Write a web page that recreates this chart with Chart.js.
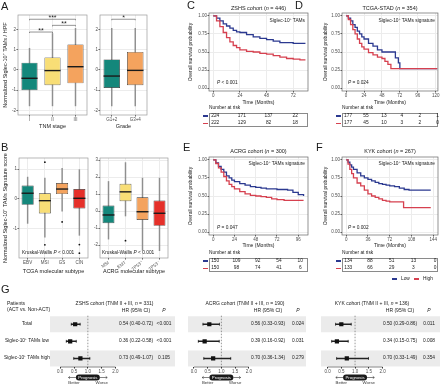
<!DOCTYPE html>
<html>
<head>
<meta charset="utf-8">
<title>Siglec-10+ TAMs</title>
<script src="https://cdn.jsdelivr.net/npm/chart.js@4.4.1/dist/chart.umd.min.js"></script>
<style>
  html, body { margin: 0; padding: 0; background: #fff; }
  body { position: relative; width: 440px; height: 384px; overflow: hidden; font-family: 'Liberation Sans', Arial, sans-serif; color: #1a1a1a; }
  canvas { position: absolute; }
  .t { position: absolute; white-space: nowrap; line-height: 1; }
  .box { position: absolute; border: 0.6px solid #8a8a8a; box-sizing: border-box; }
  .key { position: absolute; height: 1.3px; width: 5px; }
</style>
</head>
<body>
<script>
// panel A
const tnmLabels = ['I', 'II', 'III'];
const tnmMin = [-1.77, -1.77, -1.77];
const tnmQ1 = [-1.0, -0.75, -0.66];
const tnmMed = [-0.41, -0.03, 0.16];
const tnmQ3 = [0.36, 0.62, 1.26];
const tnmMax = [1.07, 1.8, 2.05];
const tnmSig = [{ from: 0, to: 1, y: 1.87, text: '**' }, { from: 1, to: 2, y: 2.2, text: '**' }, { from: 0, to: 2, y: 2.5, text: '***' }];

const gradeLabels = ['G1+2', 'G3+4'];
const gradeMin = [-1.77, -1.77];
const gradeQ1 = [-0.89, -0.75];
const gradeMed = [-0.3, -0.02];
const gradeQ3 = [0.52, 0.89];
const gradeMax = [2.05, 2.05];
const gradeSig = [{ from: 0, to: 1, y: 2.5, text: '*' }];

// panel B
const tcgaLabels = ['EBV', 'MSI', 'GS', 'CIN'];
const tcgaMin = [-0.82, -1.28, -0.41, -1.22];
const tcgaQ1 = [-0.2, -0.49, 0.16, -0.32];
const tcgaMed = [0.19, -0.06, 0.33, 0.02];
const tcgaQ3 = [0.45, 0.19, 0.53, 0.33];
const tcgaMax = [0.73, 0.7, 1.02, 0.98];
const tcgaOut = [{ x: 'MSI', y: 1.23 }, { x: 'MSI', y: -1.54 }, { x: 'GS', y: -0.77 }, { x: 'CIN', y: -1.53 }, { x: 'CIN', y: -1.82 }];

const acrgLabels = ['MSI', 'EMT', 'TP53\u207A', 'TP53\u207B'];
const acrgMin = [-1.65, -0.29, -2.3, -2.33];
const acrgQ1 = [-0.72, 0.58, -0.52, -0.87];
const acrgMed = [-0.23, 1.13, -0.04, -0.13];
const acrgQ3 = [0.33, 1.61, 0.81, 0.62];
const acrgMax = [1.74, 2.85, 1.94, 1.94];
const acrgOut = [{ x: 'EMT', y: -1.74 }];

// survival curves (months, survival probability)
const zshsLowT = [0, 3, 6, 9, 12, 15, 18, 21, 24, 30, 36, 42, 48, 54, 60, 66, 72, 78, 83];
const zshsLowS = [1, 0.97, 0.93, 0.89, 0.86, 0.83, 0.80, 0.78, 0.77, 0.74, 0.71, 0.69, 0.67, 0.65, 0.63, 0.63, 0.62, 0.62, 0.62];
const zshsHighT = [0, 3, 6, 9, 12, 15, 18, 21, 24, 30, 36, 42, 48, 54, 60, 66, 72, 78, 83];
const zshsHighS = [1, 0.93, 0.85, 0.77, 0.70, 0.64, 0.59, 0.56, 0.53, 0.51, 0.50, 0.48, 0.47, 0.45, 0.43, 0.41, 0.40, 0.39, 0.39];

const tcgaLowT = [0, 3, 6, 9, 12, 15, 18, 21, 24, 30, 36, 42, 48, 54, 60, 65, 66, 70, 72, 122];
const tcgaLowS = [1, 0.97, 0.93, 0.88, 0.84, 0.79, 0.75, 0.71, 0.68, 0.62, 0.58, 0.53, 0.50, 0.50, 0.50, 0.50, 0.42, 0.35, 0.27, 0.27];
const tcgaHighT = [0, 3, 6, 9, 12, 15, 18, 21, 24, 30, 36, 42, 48, 52, 56, 60, 122];
const tcgaHighS = [1, 0.95, 0.88, 0.81, 0.75, 0.68, 0.62, 0.57, 0.54, 0.49, 0.46, 0.43, 0.41, 0.37, 0.33, 0.27, 0.27];

const acrgLowT = [0, 3, 6, 9, 12, 15, 18, 21, 24, 30, 36, 42, 48, 54, 60, 72, 84, 90, 96, 102];
const acrgLowS = [1, 0.96, 0.91, 0.87, 0.83, 0.78, 0.75, 0.72, 0.70, 0.67, 0.65, 0.63, 0.62, 0.61, 0.60, 0.59, 0.58, 0.55, 0.52, 0.50];
const acrgHighT = [0, 3, 6, 9, 12, 15, 18, 21, 24, 30, 36, 42, 48, 54, 60, 66, 72, 80, 102];
const acrgHighS = [1, 0.95, 0.89, 0.83, 0.77, 0.71, 0.66, 0.63, 0.60, 0.56, 0.53, 0.51, 0.50, 0.49, 0.48, 0.46, 0.45, 0.44, 0.44];

const kykLowT = [0, 3, 6, 9, 12, 18, 24, 30, 36, 42, 48, 54, 60, 66, 72, 80, 88, 96, 104, 140];
const kykLowS = [1, 0.97, 0.93, 0.90, 0.87, 0.82, 0.78, 0.75, 0.73, 0.71, 0.69, 0.67, 0.66, 0.65, 0.64, 0.63, 0.61, 0.59, 0.58, 0.58];
const kykHighT = [0, 3, 6, 9, 12, 18, 24, 30, 36, 42, 48, 54, 60, 66, 72, 94, 95, 140];
const kykHighS = [1, 0.94, 0.87, 0.81, 0.75, 0.68, 0.64, 0.58, 0.53, 0.50, 0.48, 0.46, 0.44, 0.43, 0.42, 0.42, 0.34, 0.34];

// numbers at risk
const zshsRiskT = [0, 24, 48, 72];
const zshsRiskLow = [224, 171, 137, 22];
const zshsRiskHigh = [222, 129, 82, 18];
const tcgaRiskT = [0, 24, 48, 72, 96, 120];
const tcgaRiskLow = [177, 55, 13, 4, 2, 1];
const tcgaRiskHigh = [177, 45, 10, 3, 2, 0];
const acrgRiskT = [0, 24, 48, 72, 96];
const acrgRiskLow = [150, 109, 92, 54, 10];
const acrgRiskHigh = [150, 98, 74, 41, 6];
const kykRiskT = [0, 36, 72, 108, 144];
const kykRiskLow = [134, 88, 51, 13, 0];
const kykRiskHigh = [133, 66, 29, 3, 0];

// panel G
const forestRows = ['Total', 'Siglec-10\u207A TAMs low', 'Siglec-10\u207A TAMs high'];
const zshsHR = [0.54, 0.36, 0.73];
const zshsLo = [0.40, 0.22, 0.49];
const zshsHi = [0.72, 0.58, 1.07];
const zshsP = ['&lt;0.001', '&lt;0.001', '0.105'];
const acrgHR = [0.56, 0.39, 0.70];
const acrgLo = [0.33, 0.16, 0.36];
const acrgHi = [0.93, 0.92, 1.34];
const acrgP = ['0.024', '0.031', '0.279'];
const kykHR = [0.50, 0.34, 0.70];
const kykLo = [0.29, 0.15, 0.33];
const kykHi = [0.86, 0.75, 1.49];
const kykP = ['0.011', '0.008', '0.354'];

const blue = '#2b3990';
const red = '#d6404f';
const fills = ['#14877b', '#f8de76', '#f4a35e', '#e5302a'];
const FONT = "'Liberation Sans', Arial, sans-serif";

Chart.defaults.animation = false;
Chart.defaults.font.family = FONT;
Chart.defaults.font.size = 4.5;
Chart.defaults.color = '#4d4d4d';
Chart.defaults.events = [];
Chart.defaults.plugins.legend.display = false;
Chart.defaults.plugins.tooltip.enabled = false;

function place(x, y, w, h) {
  const c = document.createElement('canvas');
  c.width = w; c.height = h;
  c.style.left = x + 'px'; c.style.top = y + 'px';
  c.style.width = w + 'px'; c.style.height = h + 'px';
  document.body.appendChild(c);
  return c;
}

function text(x, y, html, size, align, extra) {
  const d = document.createElement('div');
  d.className = 't';
  d.innerHTML = html;
  d.style.left = x + 'px';
  d.style.top = y + 'px';
  d.style.fontSize = size + 'px';
  const tx = align === 'center' ? '-50%' : align === 'right' ? '-100%' : '0';
  d.style.transform = 'translate(' + tx + ',-50%)';
  if (extra) Object.assign(d.style, extra);
  document.body.appendChild(d);
  return d;
}

function key(x, y, color) {
  const d = document.createElement('div');
  d.className = 'key';
  d.style.left = x + 'px';
  d.style.top = (y - 0.65) + 'px';
  d.style.background = color;
  document.body.appendChild(d);
}

// canvas box and plot area, page coordinates
function geo(cx, cy, cw, ch, x1, y1, x2, y2) {
  return { cx, cy, cw, ch, x1, y1, x2, y2, yw: x1 - cx, xh: cy + ch - y2, pt: y1 - cy, pr: cx + cw - x2 };
}

function frame(color) {
  return {
    id: 'frame',
    afterDraw(chart) {
      const a = chart.chartArea, ctx = chart.ctx;
      ctx.save();
      ctx.strokeStyle = color;
      ctx.lineWidth = 0.7;
      ctx.strokeRect(a.left, a.top, a.right - a.left, a.bottom - a.top);
      ctx.restore();
    }
  };
}

function medianLines(values) {
  return {
    id: 'medians',
    afterDatasetsDraw(chart) {
      const meta = chart.getDatasetMeta(1);
      const y = chart.scales.y, ctx = chart.ctx;
      ctx.save();
      ctx.strokeStyle = '#1a1a1a';
      ctx.lineWidth = 1.4;
      meta.data.forEach((bar, i) => {
        const py = y.getPixelForValue(values[i]);
        ctx.beginPath();
        ctx.moveTo(bar.x - bar.width / 2, py);
        ctx.lineTo(bar.x + bar.width / 2, py);
        ctx.stroke();
      });
      ctx.restore();
    }
  };
}

function sigBrackets(pairs) {
  return {
    id: 'sig',
    afterDatasetsDraw(chart) {
      const { ctx, scales: { x, y } } = chart;
      ctx.save();
      ctx.strokeStyle = '#4d4d4d';
      ctx.lineWidth = 0.6;
      ctx.fillStyle = '#1a1a1a';
      ctx.font = '7px ' + FONT;
      ctx.textAlign = 'center';
      pairs.forEach(p => {
        const x1 = x.getPixelForValue(p.from), x2 = x.getPixelForValue(p.to), py = y.getPixelForValue(p.y);
        ctx.beginPath();
        ctx.moveTo(x1, py + 1); ctx.lineTo(x1, py); ctx.lineTo(x2, py); ctx.lineTo(x2, py + 1);
        ctx.stroke();
        ctx.fillText(p.text, (x1 + x2) / 2, py + 1);
      });
      ctx.restore();
    }
  };
}

function boxChart(g, labels, lo, q1, med, q3, hi, outliers, yMin, yMax, xTitle, yTitle, sig) {
  return new Chart(place(g.cx, g.cy, g.cw, g.ch), {
    type: 'bar',
    data: {
      labels: labels,
      datasets: [
        { type: 'line', data: outliers, showLine: false, pointRadius: 0.9, pointBackgroundColor: '#111', pointBorderWidth: 0 },
        { data: labels.map((l, i) => [q1[i], q3[i]]), backgroundColor: labels.map((l, i) => g.colors[i]), borderColor: '#2e2e2e', borderWidth: 0.7, borderSkipped: false, barPercentage: 0.7, categoryPercentage: 1, grouped: false },
        { data: labels.map((l, i) => [lo[i], hi[i]]), backgroundColor: '#8f8f8f', barThickness: 0.8, grouped: false }
      ]
    },
    options: {
      responsive: false,
      devicePixelRatio: 1,
      layout: { padding: { left: 0, top: g.pt, right: g.pr, bottom: 0 } },
      scales: {
        x: {
          grid: { offset: false, color: '#ececec', tickLength: 1.5, tickColor: '#555' },
          border: { display: false },
          ticks: { padding: 0.5 },
          title: { display: true, text: xTitle, color: '#1a1a1a', font: { size: 5.5 }, padding: { top: 0, bottom: 0.5 } },
          afterFit: s => { s.height = g.xh; }
        },
        y: {
          min: yMin, max: yMax,
          grid: { color: '#ececec', tickLength: 1.5, tickColor: '#555' },
          border: { display: false },
          ticks: { stepSize: 1, includeBounds: false, padding: 0.5 },
          title: { display: !!yTitle, text: yTitle, color: '#1a1a1a', font: { size: 5.5 }, padding: { top: 2.5, bottom: 0 } },
          afterFit: s => { s.width = g.yw; }
        }
      }
    },
    plugins: [frame('#9a9a9a'), medianLines(med), sigBrackets(sig || [])]
  });
}

function kmChart(g, lowT, lowS, highT, highS, xMin, xMax, step) {
  return new Chart(place(g.cx, g.cy, g.cw, g.ch), {
    type: 'line',
    data: {
      datasets: [
        { data: highT.map((t, i) => ({ x: t, y: highS[i] })), borderColor: red, borderWidth: 1.3, stepped: true, pointRadius: 0 },
        { data: lowT.map((t, i) => ({ x: t, y: lowS[i] })), borderColor: blue, borderWidth: 1.3, stepped: true, pointRadius: 0 }
      ]
    },
    options: {
      responsive: false,
      devicePixelRatio: 1,
      layout: { padding: { left: 0, top: g.pt, right: g.pr, bottom: 0 } },
      scales: {
        x: {
          type: 'linear', min: xMin, max: xMax,
          grid: { color: '#ececec', tickLength: 1.5, tickColor: '#555' },
          border: { display: false },
          ticks: { stepSize: step, includeBounds: false, padding: 0.5 },
          title: { display: true, text: 'Time (Months)', color: '#1a1a1a', font: { size: 5 }, padding: { top: 0, bottom: 0.5 } },
          afterFit: s => { s.height = g.xh; }
        },
        y: {
          min: -0.04, max: 1.04,
          grid: { color: '#ececec', tickLength: 1.5, tickColor: '#555' },
          border: { display: false },
          ticks: { stepSize: 0.25, includeBounds: false, padding: 0.5, callback: v => v.toFixed(2) },
          title: { display: true, text: 'Overall survival probability', color: '#1a1a1a', font: { size: 5 }, padding: { top: 3, bottom: 0 } },
          afterFit: s => { s.width = g.yw; }
        }
      }
    },
    plugins: [frame('#666')]
  });
}

function riskTable(chart, g, times, low, high, y0) {
  const xs = times.map(t => g.cx + chart.scales.x.getPixelForValue(t) + 2);
  text(g.x1, y0, 'Number at risk', 4.8, 'left');
  const fr = document.createElement('div');
  fr.className = 'box';
  fr.style.left = g.x1 + 'px';
  fr.style.top = (y0 + 4.5) + 'px';
  fr.style.width = (g.x2 - g.x1) + 'px';
  fr.style.height = '14px';
  document.body.appendChild(fr);
  [[low, blue, y0 + 8], [high, red, y0 + 15.3]].forEach(row => {
    key(g.x1 - 6, row[2], row[1]);
    row[0].forEach((v, i) => text(xs[i], row[2], String(v), 4.8, 'center'));
  });
}

function forestDecor(bands) {
  return {
    id: 'forestDecor',
    beforeDatasetsDraw(chart) {
      const { ctx, chartArea, scales: { x, y } } = chart;
      ctx.save();
      ctx.fillStyle = '#ebebeb';
      bands.forEach(i => {
        const py = y.getPixelForValue(i);
        ctx.fillRect(0, py - 8, chart.width, 16);
      });
      const rx = x.getPixelForValue(1);
      ctx.strokeStyle = '#555';
      ctx.lineWidth = 0.6;
      ctx.setLineDash([1.5, 1.5]);
      ctx.beginPath(); ctx.moveTo(rx, chartArea.top); ctx.lineTo(rx, chartArea.bottom); ctx.stroke();
      ctx.setLineDash([]);
      ctx.strokeStyle = '#333';
      ctx.beginPath(); ctx.moveTo(x.getPixelForValue(0), chartArea.bottom); ctx.lineTo(x.getPixelForValue(2), chartArea.bottom); ctx.stroke();
      ctx.restore();
    },
    afterDraw(chart) {
      const { ctx, chartArea, scales: { x } } = chart;
      const cx = x.getPixelForValue(1), py = chartArea.bottom + 10.5;
      ctx.save();
      ctx.fillStyle = '#1a1a1a';
      ctx.beginPath();
      ctx.roundRect(cx - 12, py - 3, 24, 6, 3);
      ctx.fill();
      ctx.strokeStyle = '#333';
      ctx.lineWidth = 0.6;
      const xl = x.getPixelForValue(0.3), xr = x.getPixelForValue(1.7);
      ctx.beginPath();
      ctx.moveTo(cx - 12, py); ctx.lineTo(xl, py);
      ctx.moveTo(xl + 1.5, py - 1.2); ctx.lineTo(xl, py); ctx.lineTo(xl + 1.5, py + 1.2);
      ctx.moveTo(cx + 12, py); ctx.lineTo(xr, py);
      ctx.moveTo(xr - 1.5, py - 1.2); ctx.lineTo(xr, py); ctx.lineTo(xr - 1.5, py + 1.2);
      ctx.stroke();
      ctx.textAlign = 'center';
      ctx.textBaseline = 'middle';
      ctx.fillStyle = '#fff';
      ctx.font = '4.3px ' + FONT;
      ctx.fillText('Prognosis', cx, py + 0.3);
      ctx.fillStyle = '#333';
      ctx.fillText('Better', x.getPixelForValue(0.5), py + 5.5);
      ctx.fillText('Worse', x.getPixelForValue(1.5), py + 5.5);
      ctx.restore();
    }
  };
}

function forestChart(g, hr, lo, hi, xMin, xMax, pVals, hrX, pX) {
  const pt = (vals) => vals.map((v, i) => ({ x: v, y: forestRows[i] }));
  const chart = new Chart(place(g.cx, g.cy, g.cw, g.ch), {
    type: 'bar',
    data: {
      labels: forestRows,
      datasets: [
        { type: 'line', data: pt(hr), showLine: false, pointStyle: 'rect', pointRadius: 3, pointBackgroundColor: '#111', pointBorderColor: '#111', pointBorderWidth: 0 },
        { type: 'line', data: pt(lo), showLine: false, pointStyle: 'line', pointRotation: 90, pointRadius: 1.5, pointBorderColor: '#222', pointBorderWidth: 0.7 },
        { type: 'line', data: pt(hi), showLine: false, pointStyle: 'line', pointRotation: 90, pointRadius: 1.5, pointBorderColor: '#222', pointBorderWidth: 0.7 },
        { type: 'bar', data: lo.map((v, i) => [v, hi[i]]), backgroundColor: '#222', barThickness: 0.8 }
      ]
    },
    options: {
      indexAxis: 'y',
      responsive: false,
      devicePixelRatio: 1,
      layout: { padding: { left: g.x1 - g.cx, top: g.pt, right: g.pr, bottom: 0 } },
      scales: {
        x: {
          type: 'linear', min: xMin, max: xMax,
          grid: { drawOnChartArea: false, tickLength: 1.5, tickColor: '#333' },
          border: { display: false },
          ticks: { stepSize: 0.5, includeBounds: false, padding: 0.5, callback: v => v.toFixed(1) },
          afterFit: s => { s.height = g.xh; }
        },
        y: { type: 'category', display: false }
      }
    },
    plugins: [forestDecor([0, 2])]
  });
  forestRows.forEach((r, i) => {
    const y = g.cy + chart.scales.y.getPixelForValue(i);
    text(hrX, y, hr[i].toFixed(2) + ' (' + lo[i].toFixed(2) + '-' + hi[i].toFixed(2) + ')', 4.8, 'center');
    text(pX, y, pVals[i], 4.8, 'center');
  });
  text(hrX, 309.5, 'HR (95% CI)', 5, 'center');
  text(pX, 309.5, '<i>P</i>', 5, 'center');
  return chart;
}

// ---------- A ----------
const gA1 = geo(0, 0, 90, 130, 18, 15, 87, 115);
gA1.colors = [fills[0], fills[1], fills[2]];
boxChart(gA1, tnmLabels, tnmMin, tnmQ1, tnmMed, tnmQ3, tnmMax, [], -2.22, 2.71, 'TNM stage', 'Normalized Siglec-10\u207A TAMs / HPF', tnmSig);
const gA2 = geo(88, 0, 62, 130, 100, 15, 147, 115);
gA2.colors = [fills[0], fills[2]];
boxChart(gA2, gradeLabels, gradeMin, gradeQ1, gradeMed, gradeQ3, gradeMax, [], -2.22, 2.71, 'Grade', '', gradeSig);

// ---------- B ----------
const gB1 = geo(0, 140, 92, 135, 19, 158, 89, 258);
gB1.colors = fills;
boxChart(gB1, tcgaLabels, tcgaMin, tcgaQ1, tcgaMed, tcgaQ3, tcgaMax, tcgaOut, -1.98, 1.37, 'TCGA molecular subtype', 'Normalized Siglec-10\u207A TAMs Signature score');
const gB2 = geo(90, 140, 82, 135, 100, 158, 170, 258);
gB2.colors = fills;
boxChart(gB2, acrgLabels, acrgMin, acrgQ1, acrgMed, acrgQ3, acrgMax, acrgOut, -2.76, 3.12, 'ACRG molecular subtype', '');
text(22, 253, 'Kruskal-Wallis <i>P</i> &lt; 0.001', 4.8, 'left');
text(102, 253, 'Kruskal-Wallis <i>P</i> &lt; 0.001', 4.8, 'left');

// ---------- C-F ----------
const gC = geo(185, 8, 125, 98, 209, 13, 308, 91);
const cC = kmChart(gC, zshsLowT, zshsLowS, zshsHighT, zshsHighS, -3.8, 85.3, 24);
const gD = geo(320, 8, 120, 98, 342, 13, 438, 91);
const cD = kmChart(gD, tcgaLowT, tcgaLowS, tcgaHighT, tcgaHighS, -5.5, 123, 24);
const gE = geo(185, 152, 125, 97, 209, 157, 308, 235);
const cE = kmChart(gE, acrgLowT, acrgLowS, acrgHighT, acrgHighS, -4.7, 107, 24);
const gF = geo(320, 152, 120, 97, 342, 157, 438, 235);
const cF = kmChart(gF, kykLowT, kykLowS, kykHighT, kykHighS, -7, 152, 36);

text(258.5, 8.5, 'ZSHS cohort (<i>n</i> = 446)', 5.5, 'center');
text(390, 8.5, 'TCGA-STAD (<i>n</i> = 354)', 5.5, 'center');
text(258.5, 151.5, 'ACRG cohort (<i>n</i> = 300)', 5.5, 'center');
text(390, 151.5, 'KYK cohort (<i>n</i> = 267)', 5.5, 'center');
text(305, 20.5, 'Siglec-10\u207A TAMs', 4.8, 'right');
text(435, 20.5, 'Siglec-10\u207A TAMs signature', 4.8, 'right');
text(305, 164, 'Siglec-10\u207A TAMs signature', 4.8, 'right');
text(435, 164, 'Siglec-10\u207A TAMs signature', 4.8, 'right');
text(217, 83.3, '<i>P</i> &lt; 0.001', 4.8, 'left');
text(348, 83.3, '<i>P</i> = 0.024', 4.8, 'left');
text(217, 228, '<i>P</i> = 0.047', 4.8, 'left');
text(348, 228, '<i>P</i> = 0.002', 4.8, 'left');

riskTable(cC, gC, zshsRiskT, zshsRiskLow, zshsRiskHigh, 108);
riskTable(cD, gD, tcgaRiskT, tcgaRiskLow, tcgaRiskHigh, 108);
riskTable(cE, gE, acrgRiskT, acrgRiskLow, acrgRiskHigh, 253);
riskTable(cF, gF, kykRiskT, kykRiskLow, kykRiskHigh, 253);

key(391.5, 279, blue);
text(401, 279, 'Low', 4.8, 'left');
key(414, 279, red);
text(423, 279, 'High', 4.8, 'left');

// ---------- G ----------
text(7, 303, 'Patients', 5, 'left');
text(7, 309, '(ACT vs. Non-ACT)', 5, 'left');
text(114.5, 303, 'ZSHS cohort (TNM II + III, <i>n</i> = 331)', 5, 'center');
text(245, 303, 'ACRG cohort (TNM II + III, <i>n</i> = 190)', 5, 'center');
text(372, 303, 'KYK cohort (TNM II + III, <i>n</i> = 136)', 5, 'center');

const gG1 = geo(50, 311, 125, 73, 50, 313, 122.4, 367);
const cG1 = forestChart(gG1, zshsHR, zshsLo, zshsHi, -0.2, 2.25, zshsP, 136, 164);
forestRows.forEach((r, i) => text(27, gG1.cy + cG1.scales.y.getPixelForValue(i), r, 4.8, 'center'));
forestChart(geo(188, 311, 118, 73, 188, 313, 255.7, 367), acrgHR, acrgLo, acrgHi, -0.045, 2.25, acrgP, 268, 298);
forestChart(geo(321, 311, 119, 73, 321, 313, 389.4, 367), kykHR, kykLo, kykHi, -0.068, 2.25, kykP, 400, 429);

// panel letters
text(1, 6, 'A', 11, 'left');
text(1, 147, 'B', 11, 'left');
text(187, 5, 'C', 11, 'left');
text(295, 5, 'D', 11, 'left');
text(183, 147, 'E', 11, 'left');
text(316, 147, 'F', 11, 'left');
text(1, 289, 'G', 11, 'left');
</script>
</body>
</html>
